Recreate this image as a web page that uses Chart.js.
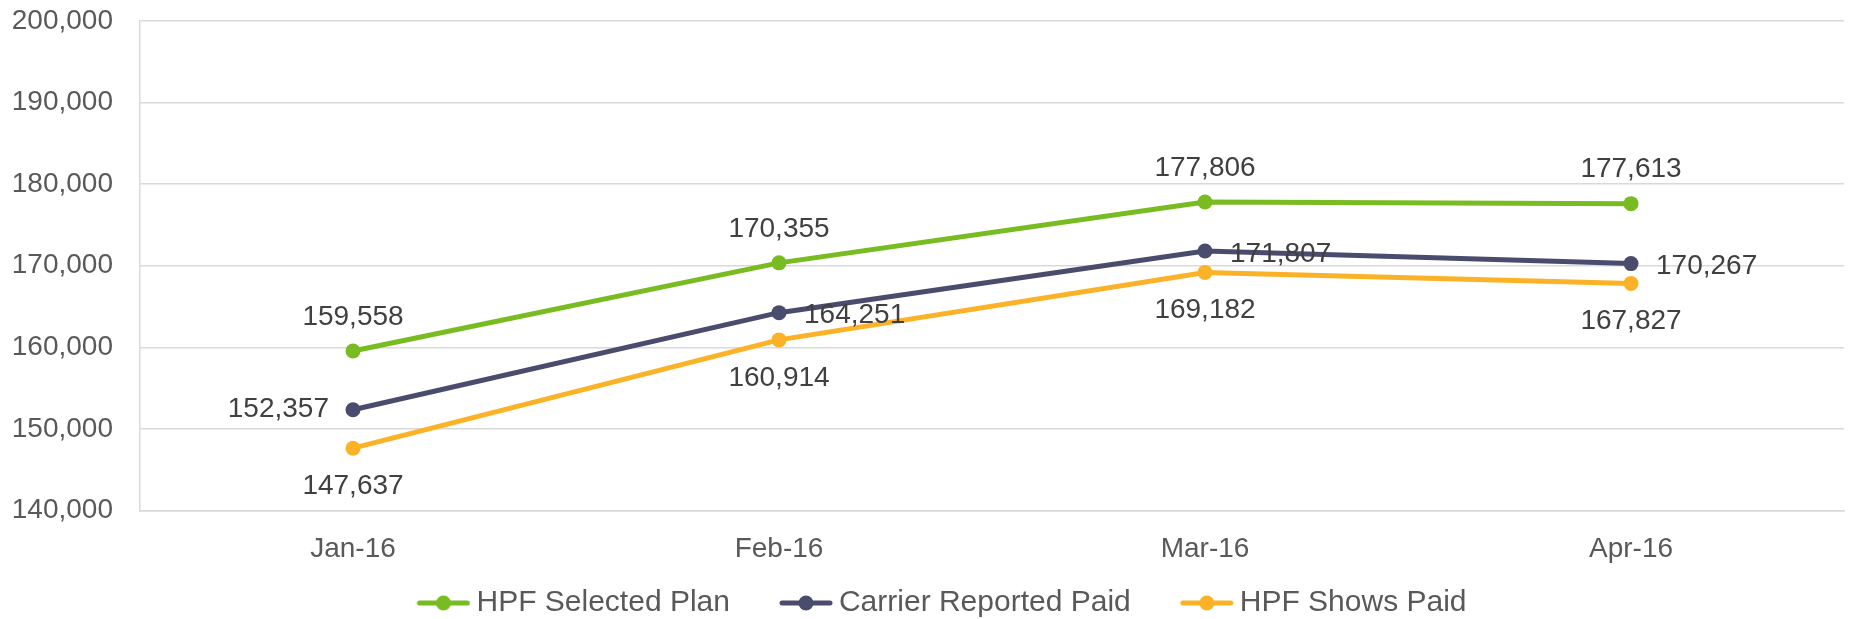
<!DOCTYPE html>
<html>
<head>
<meta charset="utf-8">
<script src="https://cdn.jsdelivr.net/npm/chart.js@4.4.0/dist/chart.umd.min.js"></script>
<style>
    html, body { margin: 0; padding: 0; background: #fff; }
    #wrap { width: 1856px; height: 619px; }
</style>
</head>
<body>
<div id="wrap"><canvas id="chart" width="1856" height="619"></canvas></div>
<script>
// --- Data ---
const months = ['Jan-16', 'Feb-16', 'Mar-16', 'Apr-16'];
const selectedPlan = [159558, 170355, 177806, 177613];
const carrierPaid = [152357, 164251, 171807, 170267];
const showsPaid = [147637, 160914, 169182, 167827];
const yTicks = [140000, 150000, 160000, 170000, 180000, 190000, 200000];

// where each value label sits relative to its point
const labelSides = [
    ['top', 'top', 'top', 'top'],
    ['left', 'right', 'right', 'right'],
    ['bottom', 'bottom', 'bottom', 'bottom']
];

const FONT = '"Liberation Sans", Arial, sans-serif';
const colors = ['#78bc21', '#494c6d', '#fbb227'];

// legend marker: a short line with a dot, drawn at the right end of a wider canvas
const makeMarker = (color) => {
    const c = document.createElement('canvas');
    c.width = 102;
    c.height = 18;
    const g = c.getContext('2d');
    g.strokeStyle = color;
    g.lineWidth = 5;
    g.lineCap = 'round';
    g.beginPath();
    g.moveTo(c.width - 51, 9);
    g.lineTo(c.width - 3, 9);
    g.stroke();
    g.fillStyle = color;
    g.beginPath();
    g.arc(c.width - 27, 9, 7.5, 0, Math.PI * 2);
    g.fill();
    return c;
};

// draws the value next to every point
const valueLabels = {
    id: 'valueLabels',
    afterDatasetsDraw(chart) {
        const ctx = chart.ctx;
        ctx.save();
        ctx.font = '28px ' + FONT;
        ctx.fillStyle = '#404040';
        ctx.textBaseline = 'middle';
        chart.data.datasets.forEach((ds, i) => {
            chart.getDatasetMeta(i).data.forEach((pt, j) => {
                const side = labelSides[i][j];
                const txt = ds.data[j].toLocaleString('en-US');
                let x = pt.x, y = pt.y;
                ctx.textAlign = 'center';
                if (side === 'top') y -= 34;
                if (side === 'bottom') y += 38;
                if (side === 'left') { x -= 24; ctx.textAlign = 'right'; }
                if (side === 'right') { x += 25; y += 3; ctx.textAlign = 'left'; }
                ctx.fillText(txt, x, y);
            });
        });
        ctx.restore();
    }
};

const names = ['HPF Selected Plan', 'Carrier Reported Paid', 'HPF Shows Paid'];
const series = [selectedPlan, carrierPaid, showsPaid];

new Chart(document.getElementById('chart'), {
    type: 'line',
    data: {
        labels: months,
        datasets: series.map((vals, i) => ({
            label: names[i],
            data: vals,
            borderColor: colors[i],
            backgroundColor: colors[i],
            pointBackgroundColor: colors[i],
            pointBorderWidth: 0,
            pointRadius: 7.5,
            borderWidth: 5,
            tension: 0
        }))
    },
    options: {
        responsive: false,
        animation: false,
        layout: { padding: { left: 0, right: 12, top: 21, bottom: -9 } },
        scales: {
            x: {
                offset: true,
                grid: { display: false, drawTicks: false, tickLength: 0 },
                border: { display: true, color: '#d9d9d9', width: 1.5 },
                ticks: { font: { family: FONT, size: 28 }, color: '#595959', padding: 22 },
                afterFit: (scale) => { scale.height = 67.5; }
            },
            y: {
                min: yTicks[0],
                max: yTicks[yTicks.length - 1],
                afterBuildTicks: (scale) => { scale.ticks = yTicks.map(v => ({ value: v })); },
                grid: { color: '#d9d9d9', lineWidth: 1.5, drawTicks: false, tickLength: 0 },
                border: { display: true, color: '#d9d9d9', width: 1.5 },
                ticks: {
                    font: { family: FONT, size: 28 },
                    color: '#595959',
                    padding: 27,
                    callback: (v) => v.toLocaleString('en-US')
                },
                afterFit: (scale) => {
                    scale.width = 140;
                    // the layout padding already leaves room for the end labels
                    scale.paddingTop = 0;
                    scale.paddingBottom = 0;
                }
            }
        },
        plugins: {
            tooltip: { enabled: false },
            legend: {
                position: 'bottom',
                labels: {
                    usePointStyle: true,
                    pointStyleWidth: 84,
                    padding: 10,
                    color: '#595959',
                    font: { family: FONT, size: 30 },
                    generateLabels: (chart) => chart.data.datasets.map((ds, i) => ({
                        text: ds.label,
                        pointStyle: makeMarker(colors[i]),
                        fillStyle: colors[i],
                        strokeStyle: colors[i],
                        fontColor: '#595959',
                        lineWidth: 0,
                        datasetIndex: i
                    }))
                }
            }
        }
    },
    plugins: [valueLabels]
});
</script>
</body>
</html>
